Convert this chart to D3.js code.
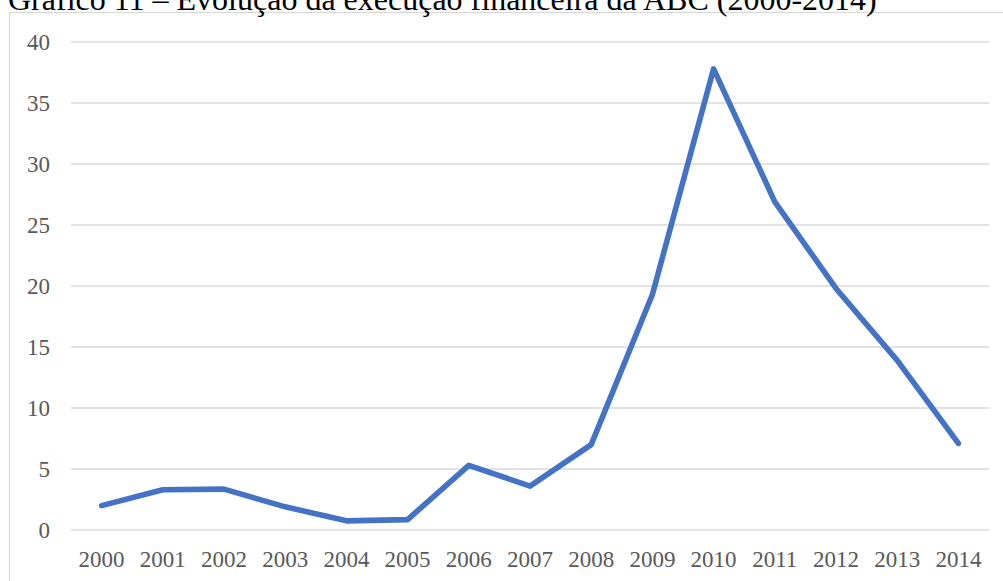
<!DOCTYPE html>
<html>
<head>
<meta charset="utf-8">
<script src="https://cdn.jsdelivr.net/npm/d3@7"></script>
<style>
  html, body { margin: 0; padding: 0; background: #fff; }
  svg { display: block; }
</style>
</head>
<body>
<svg id="chart" width="1003" height="581"></svg>
<script>
// Annual financial execution, 2000-2014
const years = ["2000","2001","2002","2003","2004","2005","2006","2007","2008","2009","2010","2011","2012","2013","2014"];
const values = [2.0, 3.3, 3.35, 1.9, 0.75, 0.85, 5.3, 3.6, 7.0, 19.3, 37.8, 26.9, 19.8, 13.9, 7.1];
const yTicks = [0, 5, 10, 15, 20, 25, 30, 35, 40];
const title = "Gráfico 11 – Evolução da execução financeira da ABC (2000-2014)";

const svg = d3.select("#chart");
const W = 1003, H = 581;
const margin = { left: 71, right: 14, top: 42, bottom: 51 };

const x = d3.scaleBand().domain(years).range([margin.left, W - margin.right]);
const y = d3.scaleLinear().domain([0, 40]).range([H - margin.bottom, margin.top]);

const serif = "'Liberation Serif', 'Times New Roman', Times, serif";

// Chart frame
svg.append("rect")
  .attr("x", 9.5).attr("y", 12.5)
  .attr("width", W + 10).attr("height", H + 10)
  .attr("fill", "none").attr("stroke", "#d9d9d9").attr("stroke-width", 1.3);

// Title, sitting above the frame
svg.append("text")
  .attr("x", 8).attr("y", 9.5)
  .attr("font-family", serif).attr("font-size", 32)
  .attr("fill", "#000")
  .text(title);

// Horizontal gridlines
svg.append("g").selectAll("line").data(yTicks).join("line")
  .attr("x1", margin.left).attr("x2", W - margin.right)
  .attr("y1", d => y(d)).attr("y2", d => y(d))
  .attr("stroke", "#d9d9d9").attr("stroke-width", 1.5);

// Y axis labels
const yAxis = d3.axisLeft(y).tickValues(yTicks).tickSize(0).tickPadding(0).tickFormat(d3.format("d"));
const gy = svg.append("g").attr("transform", `translate(${50},0)`).call(yAxis);
gy.select(".domain").remove();
gy.selectAll("text")
  .attr("font-family", serif).attr("font-size", 23).attr("fill", "#595959")
  .attr("dy", "0.34em");

// X axis labels
const xAxis = d3.axisBottom(x).tickSize(0).tickPadding(0);
const gx = svg.append("g").attr("transform", `translate(0,${H - margin.bottom})`).call(xAxis);
gx.select(".domain").remove();
gx.selectAll("text")
  .attr("font-family", serif).attr("font-size", 23).attr("fill", "#595959")
  .attr("dy", "1.6em");

// Data line
const line = d3.line()
  .x((d, i) => x(years[i]) + x.bandwidth() / 2)
  .y(d => y(d));

svg.append("path")
  .datum(values)
  .attr("d", line)
  .attr("fill", "none")
  .attr("stroke", "#4472c4")
  .attr("stroke-width", 5.6)
  .attr("stroke-linejoin", "round")
  .attr("stroke-linecap", "round");
</script>
</body>
</html>
